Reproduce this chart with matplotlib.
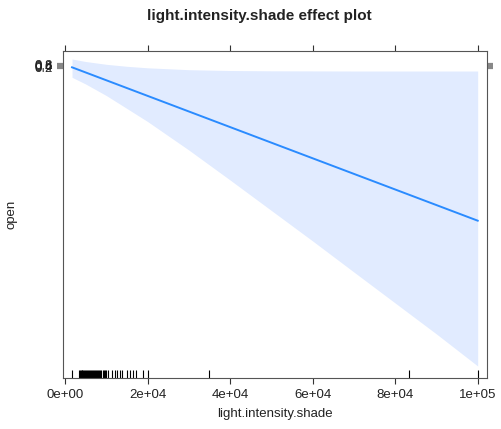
import numpy as np
import matplotlib
matplotlib.use("Agg")
import matplotlib.pyplot as plt
import matplotlib.transforms as mtransforms

plt.rcParams['font.family'] = ['Liberation Sans', 'DejaVu Sans']

# fitted effect on the linear-predictor (logit) scale
line_x = [1700, 100000]
line_y = [-1.08, -128.9]

# confidence band (logit scale)
band_x = [1700, 5000, 10000, 15000, 20000, 30000, 40000, 50000,
          60000, 70000, 80000, 90000, 100000]
band_upper = [5.83, 3.75, 1.42, -0.25, -1.5, -3.08, -3.75, -4.0,
              -4.08, -4.17, -4.17, -4.17, -4.17]
band_lower = [-9.42, -15.0, -24.6, -35.4, -46.25, -70.0, -95.0, -120.4,
              -145.8, -171.7, -197.5, -223.3, -250.0]

# observed light.intensity.shade values (rug)
rug_x = [1770, 3400, 3600, 3800, 4000, 4200, 4400, 4700, 4900, 5100,
         5400, 5600, 5800, 6000, 6300, 6500, 6800, 7000, 7200, 7500,
         7700, 8000, 8300, 8500, 8800, 9100, 9400, 9700, 10000, 10400,
         11400, 12000, 12700, 13300, 13900, 15000, 15800, 16500, 17300,
         18800, 20200, 35000, 83400, 100000]

prob_ticks = [0.2, 0.4, 0.6, 0.8]
x_ticks = [0, 20000, 40000, 60000, 80000, 100000]
x_labels = ["0e+00", "2e+04", "4e+04", "6e+04", "8e+04", "1e+05"]

fig = plt.figure(figsize=(5.02, 4.29), dpi=100)
ax = fig.add_axes([0.1255, 0.1189, 0.845, 0.7629])

ax.fill_between(band_x, band_lower, band_upper, color='#e1ebff', lw=0)
ax.plot(line_x, line_y, color='#2a8bff', lw=1.4)

trans = mtransforms.blended_transform_factory(ax.transData, ax.transAxes)
ax.vlines(rug_x, 0, 0.024, transform=trans, color='black', lw=0.8)

ax.set_xlim(-485, 102300)
ax.set_ylim(-260, 12.75)

logits = [np.log(p / (1 - p)) for p in prob_ticks]
ax.set_yticks(logits)
ax.set_yticklabels([str(p) for p in prob_ticks])
ax.set_xticks(x_ticks)
ax.set_xticklabels(x_labels)

ax.tick_params(axis='x', which='both', direction='out', length=4, width=0.8,
               top=True, labelsize=9.5, pad=4, colors='#333333',
               labelcolor='#222222')
ax.tick_params(axis='y', which='both', direction='out', length=4.5, width=1.6,
               right=True, labelsize=9.5, pad=3, colors='#888888',
               labelcolor='#222222')

for s in ax.spines.values():
    s.set_color('#555555')
    s.set_linewidth(0.8)

ax.set_xlabel('light.intensity.shade', fontsize=9.5, color='#222222', labelpad=5)
ax.set_ylabel('open', fontsize=9.5, color='#222222', labelpad=12)
fig.text(0.516, 0.963, 'light.intensity.shade effect plot', ha='center',
         va='center', fontsize=11, fontweight='bold', color='#222222')

fig.savefig('out.png', dpi=100)
